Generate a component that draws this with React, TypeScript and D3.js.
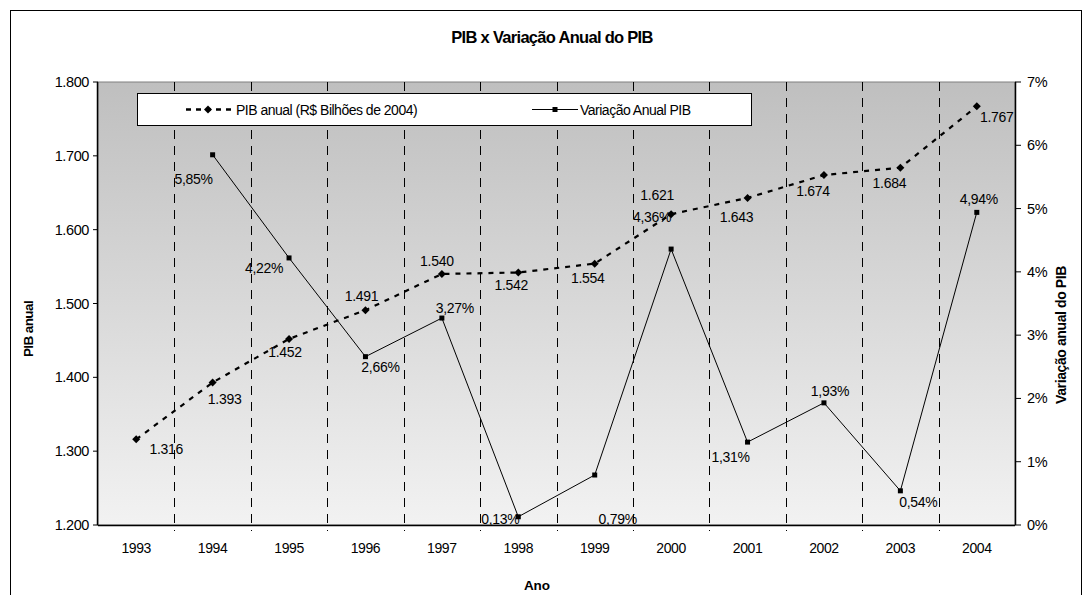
import React from "react";
import * as d3 from "d3";

const years = ["1993","1994","1995","1996","1997","1998","1999","2000","2001","2002","2003","2004"];
const pib = [1316,1393,1452,1491,1540,1542,1554,1621,1643,1674,1684,1767];
const pibLabels = ["1.316","1.393","1.452","1.491","1.540","1.542","1.554","1.621","1.643","1.674","1.684","1.767"];
const varYears = ["1994","1995","1996","1997","1998","1999","2000","2001","2002","2003","2004"];
const variacao = [5.85,4.22,2.66,3.27,0.13,0.79,4.36,1.31,1.93,0.54,4.94];
const varLabels = ["5,85%","4,22%","2,66%","3,27%","0,13%","0,79%","4,36%","1,31%","1,93%","0,54%","4,94%"];
const leftTicks = [1200,1300,1400,1500,1600,1700,1800];
const rightTicks = [0,1,2,3,4,5,6,7];

// label placement offsets (center of text relative to point)
const pibLabelOff: [number, number][] = [[30,10],[12,16],[-4,13],[-4,-14],[-5,-13],[-7,13],[-7,14],[-14,-19],[-11,19],[-11,16],[-11,15],[20,11]];
const varLabelOff: [number, number][] = [[-19,24],[-25,10],[15,10],[13,-10],[-18,2],[23,44],[-19,-32],[-17,15],[6,-12],[18,11],[2,-13]];

const W = 1085, H = 595;
const L = 98, R = 1015, T = 82, B = 525;
const FONT = "'Liberation Sans', Arial, sans-serif";

export default function App() {
  const x = d3.scaleBand<string>().domain(years).range([L, R]).padding(0);
  const yL = d3.scaleLinear().domain([1200, 1800]).range([B, T]);
  const yR = d3.scaleLinear().domain([0, 7]).range([B, T]);
  const cx = (yr: string) => (x(yr) as number) + x.bandwidth() / 2;

  const pibLine = d3.line<number>().x((_, i) => cx(years[i])).y(d => yL(d));
  const varLine = d3.line<number>().x((_, i) => cx(varYears[i])).y(d => yR(d));
  const fmtL = (v: number) => d3.format(",")(v).replace(",", ".");

  const diamond = (px: number, py: number, s = 4) => `M${px},${py - s}L${px + s},${py}L${px},${py + s}L${px - s},${py}Z`;

  return (
    <svg width={W} height={H} style={{ position: "absolute", left: 0, top: 0 }} fontFamily={FONT}>
      <defs>
        <linearGradient id="bg" x1="0" y1="0" x2="0" y2="1">
          <stop offset="0" stopColor="#bfbfbf" />
          <stop offset="1" stopColor="#f2f2f2" />
        </linearGradient>
      </defs>
      <rect x={0} y={0} width={W} height={H} fill="#fff" />
      <rect x={10.5} y={10.5} width={1071} height={600} fill="#fff" stroke="#000" strokeWidth={1} />
      <text x={552} y={43} textAnchor="middle" fontSize={16.5} fontWeight="bold" letterSpacing={-0.7}>PIB x Variação Anual do PIB</text>

      <rect x={L} y={T} width={R - L} height={B - T} fill="url(#bg)" stroke="#808080" strokeWidth={1} />

      {/* vertical dashed gridlines at category boundaries */}
      {years.slice(1).map(yr => {
        const gx = Math.round(x(yr) as number) + 0.5;
        return <line key={yr} x1={gx} x2={gx} y1={T} y2={B + 6} stroke="#000" strokeWidth={1} strokeDasharray="9,7" />;
      })}

      {/* axes */}
      <line x1={L - 0.5} x2={L - 0.5} y1={T} y2={B} stroke="#000" strokeWidth={1.5} />
      <line x1={R + 0.5} x2={R + 0.5} y1={T} y2={B} stroke="#000" strokeWidth={1.5} />
      <line x1={L} x2={R} y1={B + 0.5} y2={B + 0.5} stroke="#000" strokeWidth={1.5} />
      {leftTicks.map(t => (
        <g key={t}>
          <line x1={L - 5} x2={L} y1={yL(t)} y2={yL(t)} stroke="#000" />
          <text x={L - 9} y={yL(t) + 5} textAnchor="end" fontSize={14.5} letterSpacing={-0.4}>{fmtL(t)}</text>
        </g>
      ))}
      {rightTicks.map(t => (
        <g key={t}>
          <line x1={R} x2={R + 6} y1={yR(t)} y2={yR(t)} stroke="#000" />
          <text x={R + 12} y={yR(t) + 5} textAnchor="start" fontSize={14.5} letterSpacing={-0.4}>{t}%</text>
        </g>
      ))}
      {years.map(yr => (
        <text key={yr} x={cx(yr)} y={B + 28} textAnchor="middle" fontSize={14} letterSpacing={-0.4}>{yr}</text>
      ))}

      {/* axis titles */}
      <text x={537} y={590} textAnchor="middle" fontSize={13.5} fontWeight="bold">Ano</text>
      <text transform={`translate(33,329) rotate(-90)`} textAnchor="middle" fontSize={13.5} fontWeight="bold" letterSpacing={-0.6}>PIB anual</text>
      <text transform={`translate(1066,335) rotate(-90)`} textAnchor="middle" fontSize={14} fontWeight="bold" letterSpacing={-0.4}>Variação anual do PIB</text>

      {/* PIB series */}
      <path d={pibLine(pib) as string} fill="none" stroke="#000" strokeWidth={2.2} strokeDasharray="5,6" />
      {pib.map((v, i) => (
        <path key={i} d={diamond(cx(years[i]), yL(v))} fill="#000" />
      ))}

      {/* Variação series */}
      <path d={varLine(variacao) as string} fill="none" stroke="#000" strokeWidth={1} />
      {variacao.map((v, i) => (
        <rect key={i} x={cx(varYears[i]) - 2.5} y={yR(v) - 2.5} width={5} height={5} fill="#000" />
      ))}

      {/* labels */}
      {pib.map((v, i) => (
        <text key={i} x={cx(years[i]) + pibLabelOff[i][0]} y={yL(v) + pibLabelOff[i][1] + 5} textAnchor="middle" fontSize={14} letterSpacing={-0.3}>{pibLabels[i]}</text>
      ))}
      {variacao.map((v, i) => (
        <text key={i} x={cx(varYears[i]) + varLabelOff[i][0]} y={yR(v) + varLabelOff[i][1] + 5} textAnchor="middle" fontSize={14} letterSpacing={-0.3}>{varLabels[i]}</text>
      ))}

      {/* legend */}
      <rect x={137.5} y={93.5} width={614} height={32} fill="#fff" stroke="#000" strokeWidth={1} />
      <line x1={186} x2={234} y1={109.5} y2={109.5} stroke="#000" strokeWidth={2.5} strokeDasharray="5,5" />
      <path d={diamond(208, 109.5)} fill="#000" />
      <text x={236} y={114.5} fontSize={14} letterSpacing={-0.5}>PIB anual (R$ Bilhões de 2004)</text>
      <line x1={532} x2={578} y1={109.5} y2={109.5} stroke="#000" strokeWidth={1} />
      <rect x={552.5} y={107} width={5} height={5} fill="#000" />
      <text x={580} y={114.5} fontSize={14} letterSpacing={-0.5}>Variação Anual PIB</text>
    </svg>
  );
}
